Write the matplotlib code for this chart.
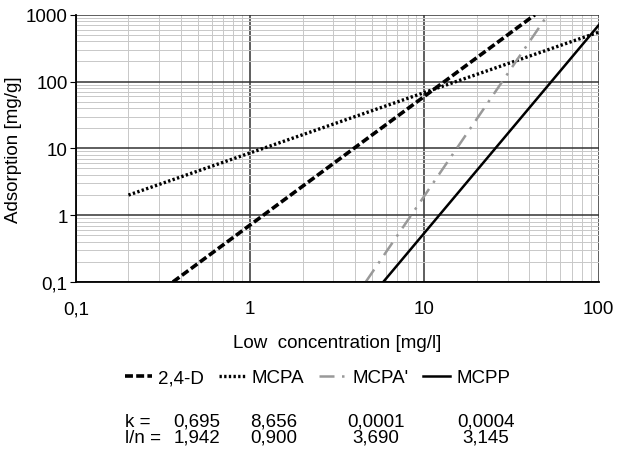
import matplotlib.pyplot as plt
from matplotlib.ticker import FixedLocator, LogLocator, NullFormatter

plt.rcParams['font.family'] = ['Liberation Sans', 'DejaVu Sans']

# end points of the isotherm lines
d24_x = [0.36, 43]
d24_y = [0.1, 1000]
mcpa_x = [0.2, 100]
mcpa_y = [2.0, 550]
mcpa2_x = [4.6, 51]
mcpa2_y = [0.1, 1000]
mcpp_x = [5.8, 100]
mcpp_y = [0.1, 700]

names = ["2,4-D", "MCPA", "MCPA'", "MCPP"]
k_vals = ["0,695", "8,656", "0,0001", "0,0004"]
n_vals = ["1,942", "0,900", "3,690", "3,145"]

x_ticks = [0.1, 1, 10, 100]
x_labels = ["0,1", "1", "10", "100"]
y_ticks = [0.1, 1, 10, 100, 1000]
y_labels = ["0,1", "1", "10", "100", "1000"]

fs = 13.5

fig = plt.figure(figsize=(6.23, 4.52), dpi=100)
ax = fig.add_axes([0.122, 0.374, 0.839, 0.591])

ax.plot(d24_x, d24_y, color='black', lw=2.6, ls=(0, (2.2, 0.9)), label=names[0])
ax.plot(mcpa_x, mcpa_y, color='black', lw=2.4, ls=(0, (0.7, 0.7)), label=names[1])
ax.plot(mcpa2_x, mcpa2_y, color='#999999', lw=1.8, ls=(0, (6, 3, 1, 3)), label=names[2])
ax.plot(mcpp_x, mcpp_y, color='black', lw=1.8, ls='-', label=names[3])

ax.set_xscale('log')
ax.set_yscale('log')
ax.set_xlim(0.1, 100)
ax.set_ylim(0.1, 1000)

ax.xaxis.set_major_locator(FixedLocator(x_ticks))
ax.set_xticklabels(x_labels)
ax.yaxis.set_major_locator(FixedLocator(y_ticks))
ax.set_yticklabels(y_labels)
ax.xaxis.set_minor_locator(LogLocator(base=10, subs=range(2, 10)))
ax.yaxis.set_minor_locator(LogLocator(base=10, subs=range(2, 10)))
ax.xaxis.set_minor_formatter(NullFormatter())
ax.yaxis.set_minor_formatter(NullFormatter())

ax.grid(which='major', color='#333333', lw=1.1)
ax.grid(which='minor', color='#c8c8c8', lw=0.7)
ax.tick_params(which='both', length=0, labelsize=fs, pad=13)
ax.tick_params(axis='y', which='major', length=4, direction='out', pad=2)
for s in ax.spines.values():
    s.set_visible(False)
ax.spines['left'].set_visible(True)
ax.spines['bottom'].set_visible(True)
ax.spines['left'].set_linewidth(1.3)
ax.spines['bottom'].set_linewidth(1.3)

ax.set_xlabel("Low  concentration [mg/l]", fontsize=fs, labelpad=12)
ax.set_ylabel("Adsorption [mg/g]", fontsize=fs, labelpad=3)

fig.legend(loc='center', bbox_to_anchor=(0.51, 0.162), ncol=4, frameon=False,
           fontsize=fs, handlelength=1.4, handletextpad=0.35, columnspacing=0.8)

fig.text(125 / 623, 0.066, "k =", fontsize=fs, ha='left', va='center')
fig.text(125 / 623, 0.030, "l/n =", fontsize=fs, ha='left', va='center')
cols = [197, 274, 376, 486]
for c, kv, nv in zip(cols, k_vals, n_vals):
    fig.text(c / 623, 0.066, kv, fontsize=fs, ha='center', va='center')
    fig.text(c / 623, 0.030, nv, fontsize=fs, ha='center', va='center')

fig.savefig("out.png", dpi=100)
